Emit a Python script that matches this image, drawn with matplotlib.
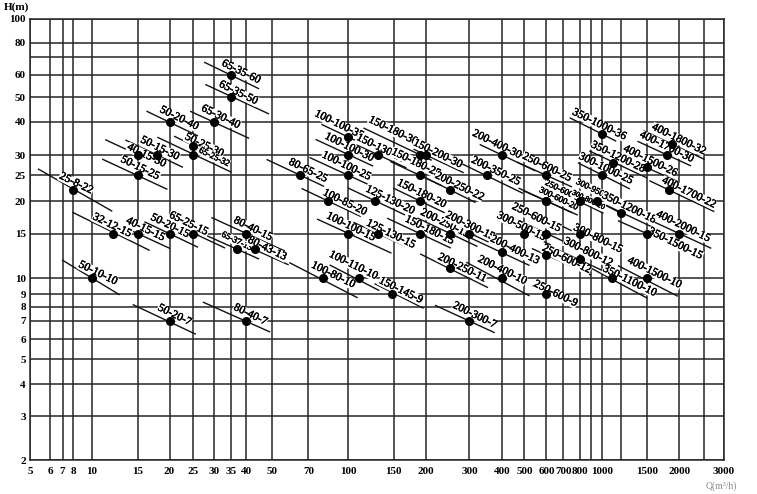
import numpy as np
import matplotlib.pyplot as plt
import matplotlib.patheffects as pe
from matplotlib.ticker import FixedLocator, FixedFormatter, NullLocator

# printed grid: values and where the sheet puts them (the scan is not a clean log scale)
x_grid = [5, 6, 7, 8, 10, 15, 20, 25, 30, 35, 40, 50, 70, 100, 150, 200, 300, 400,
          500, 600, 700, 800, 900, 1000, 1200, 1500, 2000, 2500, 3000]
x_sheet = [29.7, 50, 62.3, 72.7, 91.7, 137.7, 169.3, 192.7, 213.7, 230.7, 246, 271.7,
           308.3, 348.3, 393.7, 425.7, 469.3, 502.3, 524.3, 546.3, 563.3, 580, 591,
           602.3, 620.7, 647, 679.3, 704, 724]
x_labels = ['5', '6', '7', '8', '10', '15', '20', '25', '30', '35', '40', '50', '70', '100',
            '150', '200', '300', '400', '500', '600', '700', '800', '', '1000', '', '1500',
            '2000', '', '3000']

y_grid = [2, 3, 4, 5, 6, 7, 8, 9, 10, 15, 20, 25, 30, 40, 50, 60, 70, 80, 100]
y_sheet = [-460, -416, -384, -359, -339, -320.7, -306.7, -294, -278.3, -233.7, -201,
           -175, -155, -121.7, -97.3, -75, -57, -43, -19]
y_labels = ['2', '3', '4', '5', '6', '7', '8', '9', '10', '15', '20', '25', '30', '40',
            '50', '60', '', '80', '100']

# pump models: duty point (Q, H) and extent of the iso-line in Q
names = ['65-35-60', '65-35-50', '65-30-40', '50-20-40', '50-25-30', '65-25-32', '50-15-30',
         '40-15-30', '50-15-25', '25-8-22', '32-12-15', '40-15-15', '50-20-15', '65-25-15',
         '80-40-15', '65-37-13', '80-43-13', '50-10-10', '50-20-7', '80-40-7',
         '100-100-35', '150-130-30', '100-100-30', '150-180-30', '150-200-30', '150-180-25',
         '100-100-25', '80-65-25', '200-250-22', '100-85-20', '125-130-20', '150-180-20',
         '100-100-15', '125-130-15', '150-180-15', '200-250-13', '200-300-15', '200-400-13',
         '200-250-11', '200-400-10', '100-80-10', '100-110-10', '150-145-9', '200-300-7',
         '200-400-30', '200-350-25', '250-600-25', '350-1000-36', '400-1800-32', '400-1700-30',
         '350-1200-28', '400-1500-26', '300-1000-25', '400-1700-22', '250-600-20', '300-600-20',
         '300-800-20', '300-950-20', '350-1200-18', '400-2000-15', '350-1500-15', '250-600-15',
         '300-500-15', '300-800-15', '300-800-12', '250-600-12', '350-1100-10', '400-1500-10',
         '250-600-9']
q_pt = [35, 35, 30, 20, 25, 25, 17.8, 15, 15, 8, 12, 15, 20, 25, 40, 37, 43, 10, 20, 40,
        100, 130, 100, 190, 200, 190, 100, 65, 250, 83, 127, 190, 100, 130, 190, 250, 300, 400,
        250, 400, 80, 110, 147, 300,
        400, 350, 600, 1000, 1870, 1790, 1110, 1500, 1000, 1820, 600, 600, 800, 950, 1200, 2000,
        1500, 600, 500, 800, 800, 600, 1100, 1500, 600]
h_pt = [60, 50, 40, 40, 32.5, 30, 30, 30, 25, 22, 15, 15, 15, 15, 15, 13, 13, 10, 7, 7,
        35, 30, 30, 30, 30, 25, 25, 25, 22, 20, 20, 20, 15, 15, 15, 15, 15, 12.7, 11, 10, 10, 10,
        9, 7,
        30, 25, 25, 36, 33, 30, 28, 26.8, 25, 22, 20, 20, 20, 20, 18, 15, 15, 15, 15, 15, 11.9,
        12.4, 10, 10, 9]
q_from = [27.7, 28, 24.5, 16.3, 21, 18, 13.5, 11.3, 11, 5.4, 8, 11.7, 16, 18, 29.5, 28, 37.4,
          7, 14.4, 27.4,
          79, 108, 75, 115, 180, 146, 71, 48, 197, 66, 100, 150, 76, 105, 142, 186, 223, 288,
          191, 293, 59, 85, 127, 219,
          330, 265, 467, 740, 1450, 1390, 890, 1190, 790, 1540, 474, 496, 702, 817, 980, 1588,
          1174, 440, 384, 641, 662, 535, 894, 1174, 535]
q_to = [44.5, 48.5, 40.8, 26, 32, 35, 22.6, 19, 19.5, 11.9, 16.6, 20, 26, 33, 56, 44.5, 58,
        12.7, 25.5, 49,
        125, 167, 124, 210, 283, 230, 118, 80, 315, 111, 165, 237, 146, 165, 251, 320, 372, 519,
        351, 519, 108, 131, 195, 372,
        545, 490, 746, 1140, 2500, 2210, 1500, 1960, 1290, 2730, 746, 781, 1006, 1206, 1588,
        2655, 1903, 725, 622, 1174, 1009, 894, 1496, 1963, 769]

# label placement (pixels along the line / above it) and font size
shift = [8, 5, 4, 7, 10, 20, 0, 8, -1, 0, -4, 5, -3, -8, 4, -4, 11, 3, 2, 1,
         -14, 0, -3, -35, 10, -9, -6, 5, 7, 16, 13, -2, -1, 12, 7, -9, -3, 10, 11, -4, 7, -11,
         7, 2,
         -10, 6, -3, -7, 4, -4, 2, 0, 0, 19, 12, 10, 7, -6, 5, 0, 30, -16, -6, 18, 4, 20, 17, 4, 8]
lift = [7, 7, 7, 7, 5, 7, 7, 3, 7, 7, 7, 7, 7, 7, 7, 7, 6, 7, 7, 7,
        7, 7, 7, 10, 6, 9, 7, 7, 7, 6, 7, 7, 7, 5, 7, 7, 7, 7, 5, 7, 7, 9, 7, 7,
        7, 7, 7, 7, 7, 7, 7, 7, 7, 6, 16, 7, 4.5, 8.5, 8, 8, 3, 10, 5, 3, 9.5, 4.4, 5, 8, 4]
small = {'65-25-32': 6.5, '65-37-13': 6.5, '250-600-20': 6.5, '300-600-20': 6.5,
         '300-950-20': 6.5, '300-800-20': 5.5}

slope = -0.46   # iso-line slope in log H / log Q


def sheet_scale(vals, pos):
    lv = np.log10(np.asarray(vals, float))
    p = np.asarray(pos, float)
    k0 = (p[1] - p[0]) / (lv[1] - lv[0])
    k1 = (p[-1] - p[-2]) / (lv[-1] - lv[-2])

    def fwd(v):
        l = np.log10(np.maximum(np.asarray(v, float), 1e-9))
        out = np.interp(l, lv, p)
        out = np.where(l < lv[0], p[0] + (l - lv[0]) * k0, out)
        out = np.where(l > lv[-1], p[-1] + (l - lv[-1]) * k1, out)
        return out

    def inv(u):
        u = np.asarray(u, float)
        l = np.interp(u, p, lv)
        l = np.where(u < p[0], lv[0] + (u - p[0]) / k0, l)
        l = np.where(u > p[-1], lv[-1] + (u - p[-1]) / k1, l)
        return 10 ** l
    return fwd, inv


plt.rcParams['font.family'] = ['Liberation Serif', 'DejaVu Serif']

fig = plt.figure(figsize=(7.57, 4.94), dpi=100)
ax = fig.add_axes([30 / 757, 34 / 494, 694 / 757, 441 / 494])
ax.set_xscale('function', functions=sheet_scale(x_grid, x_sheet))
ax.set_yscale('function', functions=sheet_scale(y_grid, y_sheet))
ax.set_xlim(5, 3000)
ax.set_ylim(2, 100)

ax.xaxis.set_major_locator(FixedLocator(x_grid))
ax.xaxis.set_major_formatter(FixedFormatter(x_labels))
ax.yaxis.set_major_locator(FixedLocator(y_grid))
ax.yaxis.set_major_formatter(FixedFormatter(y_labels))
ax.xaxis.set_minor_locator(NullLocator())
ax.yaxis.set_minor_locator(NullLocator())
ax.tick_params(length=0, labelsize=8)
ax.tick_params(axis='x', pad=5)
ax.tick_params(axis='y', pad=3)
for t in ax.get_xticklabels() + ax.get_yticklabels():
    t.set_fontweight('bold')
ax.grid(True, color='#262626', lw=1.1, zorder=0)
for sp in ax.spines.values():
    sp.set_color('#262626')
    sp.set_linewidth(1.1)
ax.set_axisbelow(True)

th = np.deg2rad(25.5)
heavy = [pe.withStroke(linewidth=0.35, foreground='black')]
for i, nm in enumerate(names):
    Q, H = q_pt[i], h_pt[i]
    qs = np.array([q_from[i], q_to[i]])
    ax.plot(qs, H * (qs / Q) ** slope, color='#111111', lw=1.0, zorder=2)
    ax.plot(Q, H, 'o', color='black', ms=5.5, zorder=5)
    dx = shift[i] * np.cos(th) + lift[i] * np.sin(th)
    dy = -shift[i] * np.sin(th) + lift[i] * np.cos(th)
    txt = ax.annotate(nm, (Q, H), xytext=(dx, dy), textcoords='offset pixels',
                      rotation=-26, rotation_mode='anchor', ha='center', va='center',
                      fontsize=small.get(nm, 8.2), color='black', zorder=3,
                      bbox=dict(fc='white', ec='none', pad=0.4))
    txt.set_path_effects(heavy)

fig.text(4 / 757, 1 - 2 / 494, 'H(m)', fontsize=8, fontweight='bold', va='top', ha='left')
fig.text(737 / 757, 3 / 494, 'Q(m\u00b3/h)', fontsize=7, color='#8a8a8a', va='bottom', ha='right')

fig.savefig('out.png', dpi=100)
